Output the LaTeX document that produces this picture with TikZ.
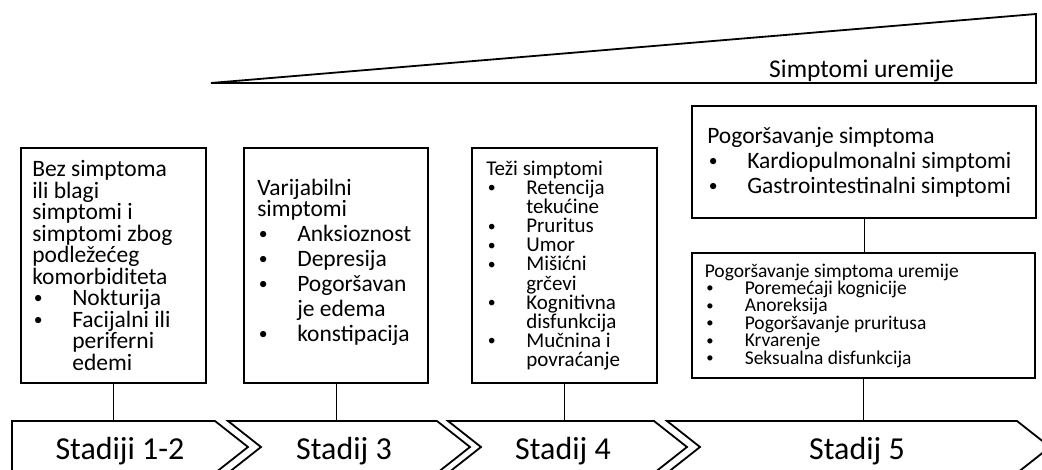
\documentclass[tikz,border=0pt]{standalone}
\usepackage{tikz}
\usepackage{fontspec}
\setmainfont{Carlito}

\newlength{\bltw}
\setlength{\bltw}{40pt}
\newcommand{\blt}[1]{\makebox[\bltw][l]{\hspace{1.5pt}\raisebox{0.08em}{\scalebox{0.75}{\textbullet}}}#1}
\newcommand{\cnt}[1]{\hspace*{\bltw}#1}

\begin{document}
\begin{tikzpicture}[%
        x = 1pt, y = -1pt,
        box/.style = {draw, line width=1.8pt, inner sep=0pt},
        txt/.style = {anchor=west, align=left, inner sep=0pt},
        stage/.style = {anchor=north, inner sep=0pt, minimum height=62pt,
            text height=22pt, text depth=7pt, font=\fontsize{32}{36}\selectfont},
        chev/.style = {line width=1.8pt, line join=miter},
        link/.style = {line width=1pt}
    ]
      \useasboundingbox (0,0) rectangle (1042,469);
      \clip (0,0) rectangle (1042,469);
      \draw[chev] (211,83) -- (1036,83) -- (1036,14) -- cycle;
      \node[anchor=base west, inner sep=0pt, font=\fontsize{25.5}{28}\selectfont] (u) at (769,77) {Simptomi uremije};
      \draw[chev] (12,421) -- (215,421) -- (248,447) -- (215,473) -- (12,473) -- cycle;
      \draw[chev] (228,421) -- (437,421) -- (470,447) -- (437,473) -- (228,473) -- (261,447) -- cycle;
      \draw[chev] (448,421) -- (654,421) -- (687,447) -- (654,473) -- (448,473) -- (481,447) -- cycle;
      \draw[chev] (667,421) -- (1017,421) -- (1050,447) -- (1017,473) -- (667,473) -- (700,447) -- cycle;
      \node[stage] (s1) at (120,421) {Stadiji 1-2};
      \node[stage] (s2) at (344,421) {Stadij 3};
      \node[stage] (s3) at (563,421) {Stadij 4};
      \node[stage] (s4) at (857,421) {Stadij 5};
      \node[box, minimum width=185pt, minimum height=235pt] (b1) at (113.5,265.5) {};
      \node[box, minimum width=184pt, minimum height=235pt] (b2) at (336,265.5) {};
      \node[box, minimum width=185pt, minimum height=235pt] (b3) at (564.5,265.5) {};
      \node[box, minimum width=344pt, minimum height=112pt] (b4) at (864,162) {};
      \node[box, minimum width=343pt, minimum height=125pt] (b5) at (863.5,315.5) {};
      \node[txt, font=\fontsize{23.5}{21.5}\selectfont] (t1) at ([xshift=12pt]b1.west) {Bez simptoma\\ ili blagi\\ simptomi i\\ simptomi zbog\\ podležećeg\\ komorbiditeta\\ \blt{Nokturija}\\ \blt{Facijalni ili}\\ \cnt{periferni}\\ \cnt{edemi}};
      \node[txt, font=\fontsize{23.5}{25}\selectfont] (t2) at ([xshift=14pt, yshift=3pt]b2.west) {Varijabilni\\[-4pt] simptomi\\ \blt{Anksioznost}\\ \blt{Depresija}\\ \blt{Pogoršavan}\\ \cnt{je edema}\\ \blt{konstipacija}};
      \node[txt, font=\fontsize{21}{19.1}\selectfont] (t3) at ([xshift=15pt]b3.west) {Teži simptomi\\ \blt{Retencija}\\ \cnt{tekućine}\\ \blt{Pruritus}\\ \blt{Umor}\\ \blt{Mišićni}\\ \cnt{grčevi}\\ \blt{Kognitivna}\\ \cnt{disfunkcija}\\ \blt{Mučnina i}\\ \cnt{povraćanje}};
      \node[txt, font=\fontsize{23.5}{25}\selectfont] (t4) at ([xshift=16pt]b4.west) {Pogoršavanje simptoma\\ \blt{Kardiopulmonalni simptomi}\\ \blt{Gastrointestinalni simptomi}};
      \node[txt, font=\fontsize{19.5}{17.4}\selectfont] (t5) at ([xshift=13.5pt]b5.west) {Pogoršavanje simptoma uremije\\ \blt{Poremećaji kognicije}\\ \blt{Anoreksija}\\ \blt{Pogoršavanje pruritusa}\\ \blt{Krvarenje}\\ \blt{Seksualna disfunkcija}};
      \draw[link] (b1.south) -- (b1.south |- s1.north);
      \draw[link] (b2.south) -- (b2.south |- s2.north);
      \draw[link] (b3.south) -- (b3.south |- s3.north);
      \draw[link] (b4.south) -- (b4.south |- b5.north);
      \draw[link] (b5.south) -- (b5.south |- s4.north);
    \end{tikzpicture}
\end{document}
